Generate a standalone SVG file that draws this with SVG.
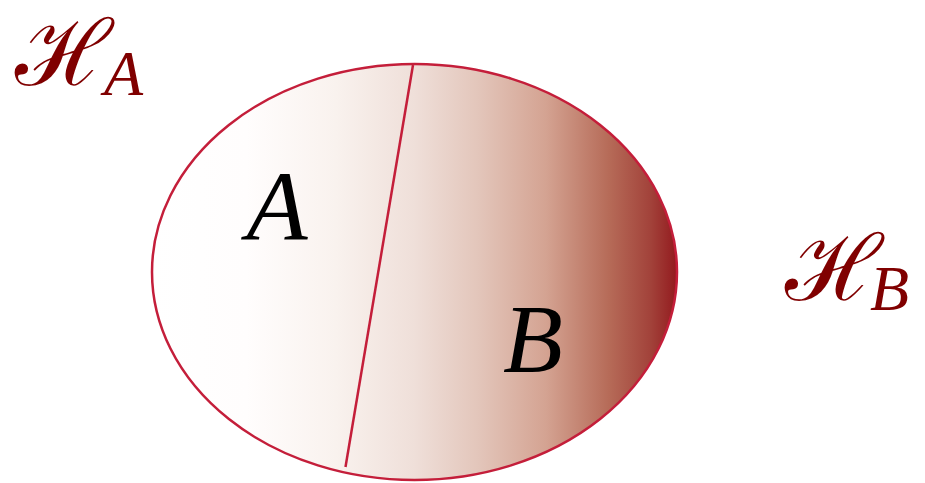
<svg xmlns="http://www.w3.org/2000/svg" width="925" height="483" viewBox="0 0 925 483">
<style>
.lbl{font-family:"Liberation Serif","DejaVu Serif",serif;font-style:italic;fill:#000}
.hs{font-family:"DejaVu Serif","Liberation Serif",serif;fill:#800000}
.sub{font-family:"Liberation Serif",serif;font-style:italic;fill:#800000}
.edge{stroke:#c41e3a;stroke-width:2.5;fill:none}
.shape{stroke:#c41e3a;stroke-width:2.5;fill:url(#g)}
</style>
<defs>
<linearGradient id="g" x1="152" y1="0" x2="677" y2="0" gradientUnits="userSpaceOnUse">
<stop offset="0" stop-color="#ffffff"/>
<stop offset="0.18" stop-color="#fffdfd"/>
<stop offset="0.35" stop-color="#f9f2ee"/>
<stop offset="0.5" stop-color="#efdfd9"/>
<stop offset="0.62" stop-color="#e3c6bb"/>
<stop offset="0.75" stop-color="#d4a392"/>
<stop offset="0.87" stop-color="#b66b58"/>
<stop offset="0.95" stop-color="#a2423a"/>
<stop offset="1" stop-color="#931a1e"/>
</linearGradient>
</defs>
<g id="region">
<ellipse cx="414.5" cy="272" rx="262.5" ry="208" class="shape"/>
</g>
<g id="connectors">
<line x1="413" y1="65" x2="345.5" y2="467" class="edge"/>
</g>
<g id="labelA"><text x="277" y="240" font-size="100" text-anchor="middle" class="lbl">A</text></g>
<g id="labelB"><text x="533" y="372" font-size="98" text-anchor="middle" class="lbl">B</text></g>
<g id="HA"><text x="15" y="85" font-size="92" class="hs">ℋ</text><text x="104" y="95" font-size="64" class="sub">A</text></g>
<g id="HB"><text x="785" y="300" font-size="92" class="hs">ℋ</text><text x="870" y="310" font-size="64" class="sub">B</text></g>
</svg>
